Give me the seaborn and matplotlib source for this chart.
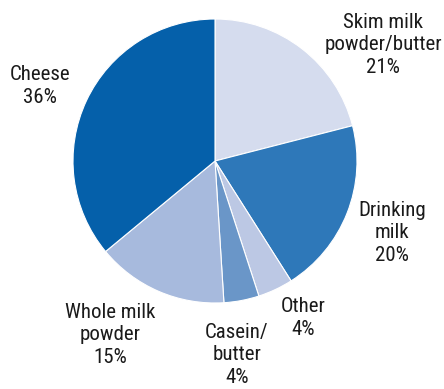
import matplotlib.pyplot as plt
import seaborn as sns
from matplotlib import font_manager

# data
labels = ["Skim milk\npowder/butter\n21%", "Drinking\nmilk\n20%", "Other\n4%",
          "Casein/\nbutter\n4%", "Whole milk\npowder\n15%", "Cheese\n36%"]
shares = [21, 20, 4, 4, 15, 36]
colours = ["#d5dcee", "#2e78b9", "#bcc8e4", "#6a96c8", "#a7badd", "#0560aa"]

# label centres in pixels (x, y from top)
label_pos = [(383, 45), (392, 233), (303, 318), (237, 355), (110, 335), (40, 86)]

sns.set_theme(style="white")

# look for a narrow upright face, the reference uses a condensed grotesque
fonts = font_manager.fontManager.ttflist
font_file = None
for want in ["Liberation Sans Narrow", "Roboto Condensed", "Open Sans Condensed"]:
    hits = [f for f in fonts if f.name == want and f.style == "normal"
            and f.weight in (400, "normal", "regular")]
    if hits:
        font_file = hits[0].fname
        break
if font_file is None:
    hits = [f for f in fonts if "condensed" in str(f.stretch) and f.name == "DejaVu Sans"
            and f.weight in (400, "normal") and f.style == "normal"]
    if hits:
        font_file = hits[0].fname
if font_file:
    prop = font_manager.FontProperties(fname=font_file, size=15)
else:
    prop = font_manager.FontProperties(family="Liberation Sans", size=13)

W, H = 444, 389
fig = plt.figure(figsize=(W / 100, H / 100), dpi=100)
ax = fig.add_axes([73 / W, (H - 303) / H, 284 / W, 284 / H])
ax.pie(shares, colors=colours, startangle=90, counterclock=False, radius=1,
       wedgeprops=dict(edgecolor="white", linewidth=0.8))
ax.set_xlim(-1, 1)
ax.set_ylim(-1, 1)
ax.set_aspect("equal")
ax.axis("off")

for lab, (px, py) in zip(labels, label_pos):
    fig.text(px / W, 1 - py / H, lab, ha="center", va="center", fontproperties=prop,
             color="#1a1a1a", linespacing=1.25)

fig.savefig("out.png", dpi=100)
